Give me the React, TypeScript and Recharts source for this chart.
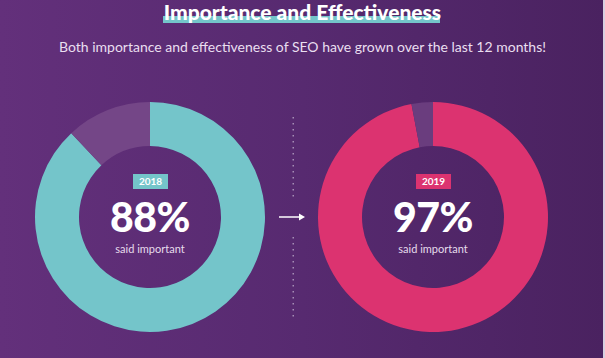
import { PieChart, Pie, Cell } from "recharts";

const years = ["2018", "2019"];
const importantShare = [88, 97];
const restShare = [12, 3];
const captions = ["said important", "said important"];
const title = "Importance and Effectiveness";
const subtitle =
  "Both importance and effectiveness of SEO have grown over the last 12 months!";

const mainColors = ["#74c5ca", "#dc3370"];
const restColors = ["#744687", "#6a3d7e"];
const centersX = [150, 433];
const centerY = 217;

const W = 605;
const H = 358;

export default function App() {
  const pies = years.map((year, i) => ({
    year,
    data: [
      { name: "important", value: importantShare[i] },
      { name: "rest", value: restShare[i] },
    ],
  }));

  const dots: number[] = [];
  for (let y = 117; y <= 318; y += 6) {
    if (y < 200 || y > 234) dots.push(y);
  }

  return (
    <div
      style={{
        position: "absolute",
        left: 0,
        top: 0,
        width: W,
        height: H,
        overflow: "hidden",
        background: "linear-gradient(90deg, #63307b 0%, #572a70 50%, #4a2260 100%)",
        fontFamily: "Lato, 'Open Sans', sans-serif",
      }}
    >
      <div
        style={{
          position: "absolute",
          left: 163,
          top: 16,
          width: 277,
          height: 7,
          background: "#74c5ca",
        }}
      />
      <div
        style={{
          position: "absolute",
          left: 0,
          top: 0,
          width: W,
          textAlign: "center",
          color: "#ffffff",
          fontWeight: 900,
          fontSize: 21,
          lineHeight: "24px",
        }}
      >
        {title}
      </div>
      <div
        style={{
          position: "absolute",
          left: 0,
          top: 38,
          width: W,
          textAlign: "center",
          color: "#eadff0",
          fontSize: 14,
          lineHeight: "18px",
        }}
      >
        {subtitle}
      </div>

      <div style={{ position: "absolute", left: 0, top: 0 }}>
        <PieChart
          width={W}
          height={H}
          margin={{ top: 0, right: 0, bottom: 0, left: 0 }}
        >
          {pies.map((p, i) => (
            <Pie
              key={p.year}
              data={p.data}
              dataKey="value"
              nameKey="name"
              cx={centersX[i]}
              cy={centerY}
              innerRadius={71}
              outerRadius={115}
              startAngle={90}
              endAngle={-270}
              stroke="none"
              isAnimationActive={false}
            >
              <Cell fill={mainColors[i]} />
              <Cell fill={restColors[i]} />
            </Pie>
          ))}
        </PieChart>
      </div>

      <svg
        width={W}
        height={H}
        style={{ position: "absolute", left: 0, top: 0 }}
      >
        {dots.map((y) => (
          <rect key={y} x={292.5} y={y} width={1.5} height={1.5} fill="#a58db5" />
        ))}
        <line x1={279} y1={217} x2={300} y2={217} stroke="#ffffff" strokeWidth={1.5} />
        <polygon points="299,213.5 305,217 299,220.5" fill="#ffffff" />
        <rect x={603} y={0} width={2} height={H} fill="#d8d0e0" />
      </svg>

      {years.map((year, i) => (
        <div key={year}>
          <div
            style={{
              position: "absolute",
              left: centersX[i] - 17,
              top: 174,
              width: 35,
              height: 15,
              background: mainColors[i],
              color: "#ffffff",
              fontSize: 10,
              fontWeight: 700,
              lineHeight: "15px",
              textAlign: "center",
            }}
          >
            {year}
          </div>
          <div
            style={{
              position: "absolute",
              left: centersX[i] - 60,
              top: 200,
              width: 120,
              textAlign: "center",
              color: "#ffffff",
              fontSize: 41,
              fontWeight: 900,
              lineHeight: "34px",
              letterSpacing: -0.5,
            }}
          >
            {`${importantShare[i]}%`}
          </div>
          <div
            style={{
              position: "absolute",
              left: centersX[i] - 60,
              top: 242,
              width: 120,
              textAlign: "center",
              color: "#e6dcec",
              fontSize: 11,
              lineHeight: "13px",
            }}
          >
            {captions[i]}
          </div>
        </div>
      ))}
    </div>
  );
}
